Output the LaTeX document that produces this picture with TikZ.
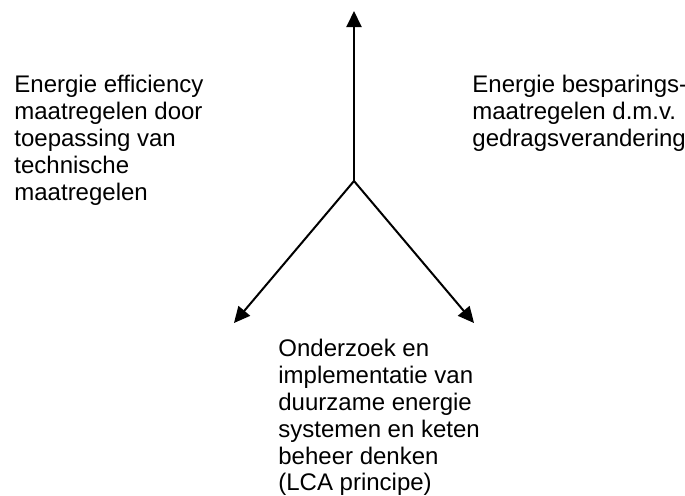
\documentclass[tikz,border=0pt]{standalone}
\usepackage{fontspec}
\setmainfont{Liberation Sans}
\usetikzlibrary{arrows.meta}

\tikzset{
  label text/.style={font=\fontsize{12}{13.4}\selectfont, align=left, inner sep=0pt, anchor=north west},
  pijl/.style={line width=1pt, -{Triangle[length=8pt,width=7.5pt]}}
}

\begin{document}
\begin{tikzpicture}[x=0.5pt,y=-0.5pt]
      \useasboundingbox (0,0) rectangle (685,495);
      \coordinate (hub) at (354,181);
      \coordinate (top) at (354,11);
      \coordinate (links) at (234,323);
      \coordinate (rechts) at (474,323);
      \draw[pijl] (hub) -- (top);
      \draw[pijl] (hub) -- (links);
      \draw[pijl] (hub) -- (rechts);
      \node[label text] (efficiency) at (14,75) {Energie efficiency\\maatregelen door\\toepassing van\\technische\\maatregelen};
      \node[label text] (besparing) at (472,75) {Energie besparings-\\maatregelen d.m.v.\\gedragsverandering};
      \node[label text] (duurzaam) at (278,339) {Onderzoek en\\implementatie van\\duurzame energie\\systemen en keten\\beheer denken\\(LCA principe)};
    \end{tikzpicture}
\end{document}
